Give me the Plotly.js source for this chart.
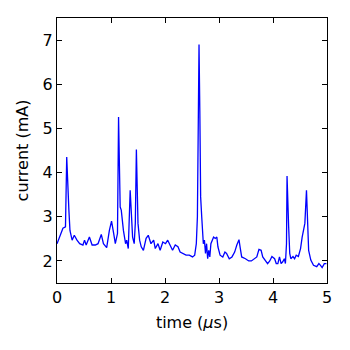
<!DOCTYPE html>
<html>
<head>
<meta charset="utf-8">
<script src="https://cdn.plot.ly/plotly-3.0.1.min.js"></script>
<style>
  html, body { margin: 0; padding: 0; background: #fff; }
  #plot { width: 350px; height: 350px; }
</style>
</head>
<body>
<div id="plot"></div>
<script>
var timeUs = [0.00,0.05,0.11,0.157,0.18,0.22,0.24,0.28,0.32,0.37,0.42,0.48,0.51,0.54,0.60,0.65,0.71,0.76,0.82,0.86,
  0.92,0.97,1.01,1.05,1.08,1.12,1.14,1.17,1.19,1.23,1.27,1.29,1.32,1.355,1.38,1.40,1.43,1.45,1.47,1.50,
  1.53,1.56,1.60,1.65,1.69,1.74,1.79,1.82,1.87,1.91,1.96,2.01,2.05,2.10,2.14,2.19,2.24,2.28,2.33,2.39,
  2.45,2.51,2.55,2.58,2.60,2.615,2.63,2.645,2.66,2.68,2.71,2.73,2.75,2.77,2.79,2.81,2.83,2.85,2.88,2.90,
  2.93,2.96,2.98,3.02,3.07,3.11,3.14,3.19,3.24,3.29,3.33,3.37,3.39,3.42,3.49,3.55,3.60,3.65,3.70,3.74,
  3.78,3.81,3.86,3.90,3.94,3.98,4.03,4.06,4.09,4.12,4.15,4.18,4.21,4.23,4.25,4.26,4.29,4.31,4.33,4.37,
  4.40,4.43,4.47,4.51,4.54,4.565,4.59,4.62,4.64,4.66,4.70,4.75,4.81,4.85,4.88,4.91,4.95,4.99];

var currentMa = [2.39,2.54,2.74,2.77,4.35,3.15,2.69,2.47,2.58,2.47,2.39,2.36,2.47,2.36,2.54,2.36,2.36,2.39,2.60,2.39,
  2.30,2.69,2.90,2.62,2.39,2.62,5.26,3.22,3.15,2.69,2.39,2.47,2.28,3.60,3.15,2.54,2.39,2.85,4.52,2.85,
  2.47,2.32,2.24,2.51,2.58,2.39,2.47,2.28,2.39,2.24,2.43,2.39,2.47,2.36,2.24,2.36,2.32,2.20,2.17,2.13,
  2.13,2.09,2.13,2.39,3.00,5.00,6.90,5.40,3.45,3.00,2.39,2.47,2.17,2.39,2.05,2.24,2.09,2.39,2.47,2.54,
  2.51,2.54,2.32,2.13,2.09,2.20,2.17,2.05,2.09,2.20,2.36,2.48,2.32,2.09,2.05,2.00,2.00,2.05,2.09,2.26,
  2.24,2.09,2.02,1.94,2.00,2.10,2.05,1.94,1.94,2.09,1.94,1.98,2.05,1.94,2.39,3.92,2.77,2.17,2.05,2.10,
  2.05,2.13,2.10,2.28,2.54,2.74,2.85,3.60,2.85,2.24,2.02,1.90,1.87,1.94,1.90,1.85,1.94,1.94];

var xTicks = [0, 1, 2, 3, 4, 5];
var yTicks = [2, 3, 4, 5, 6, 7];

var trace = {
  x: timeUs,
  y: currentMa,
  mode: 'lines',
  line: { color: '#0000ff', width: 1.3 },
  hoverinfo: 'skip'
};

var axisStyle = {
  showgrid: false,
  zeroline: false,
  showline: true,
  linecolor: '#000',
  linewidth: 1,
  mirror: 'allticks',
  ticks: 'inside',
  ticklen: 5,
  tickwidth: 1,
  tickcolor: '#000',
  tickfont: { family: 'DejaVu Sans', size: 16, color: '#000' }
};

var layout = {
  width: 350,
  height: 350,
  margin: { l: 57, r: 23, t: 18, b: 67 },
  paper_bgcolor: '#fff',
  plot_bgcolor: '#fff',
  showlegend: false,
  font: { family: 'DejaVu Sans', size: 16, color: '#000' },
  xaxis: Object.assign({}, axisStyle, {
    range: [0, 5],
    tickvals: xTicks,
    title: { text: 'time (<i>μ</i>s)', font: { family: 'DejaVu Sans', size: 16 }, standoff: 10 }
  }),
  yaxis: Object.assign({}, axisStyle, {
    range: [1.5, 7.5],
    tickvals: yTicks,
    title: { text: 'current (mA)', font: { family: 'DejaVu Sans', size: 16 }, standoff: 10 }
  })
};

Plotly.newPlot('plot', [trace], layout, { staticPlot: true, displayModeBar: false });
</script>
</body>
</html>
